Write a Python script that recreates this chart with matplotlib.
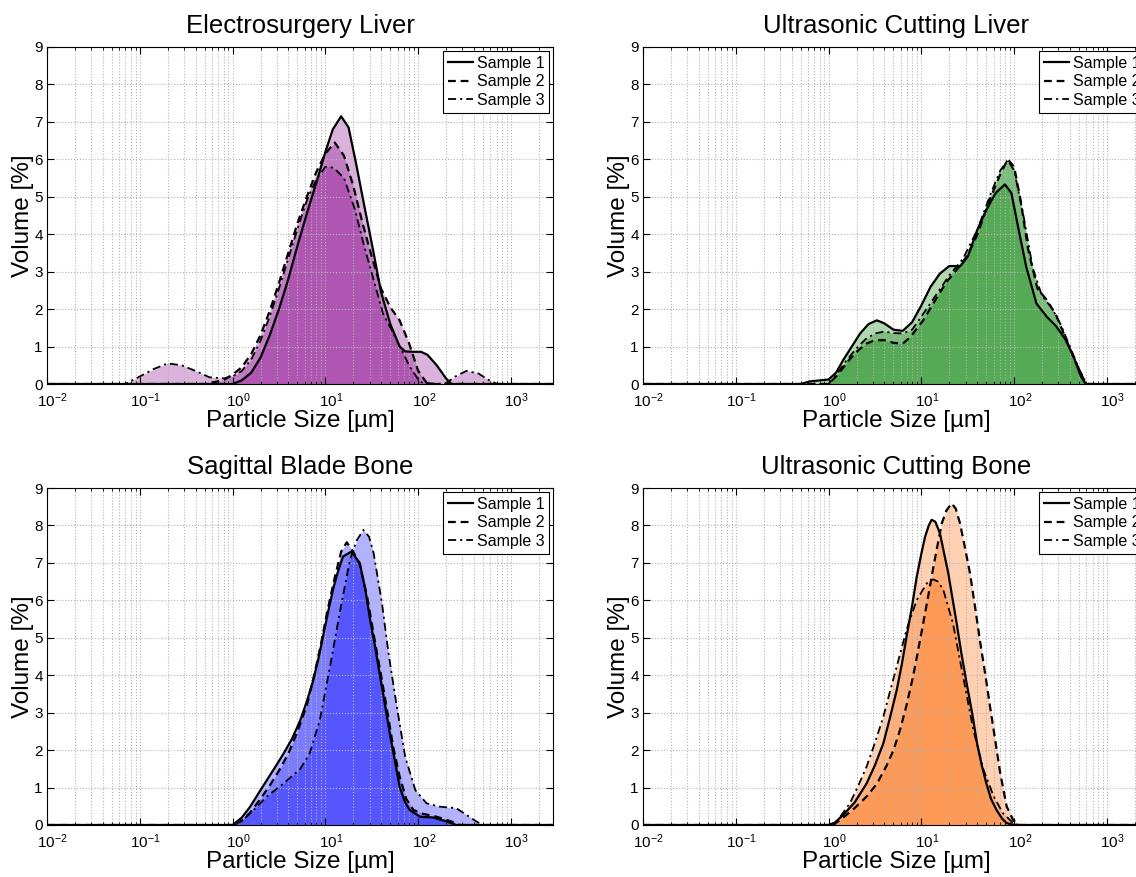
import numpy as np
import matplotlib
matplotlib.use("Agg")
import matplotlib.pyplot as plt
import matplotlib.transforms as mtransforms
from matplotlib.ticker import LogLocator, NullFormatter, MultipleLocator

plt.rcParams['font.family'] = ['Liberation Sans', 'DejaVu Sans']
plt.rcParams['mathtext.fontset'] = 'custom'
plt.rcParams['mathtext.rm'] = 'Liberation Sans'

# particle sizes are given as log10(size in um), volumes in %
titles = ["Electrosurgery Liver", "Ultrasonic Cutting Liver",
          "Sagittal Blade Bone", "Ultrasonic Cutting Bone"]
labels = ["Sample 1", "Sample 2", "Sample 3"]
colors = [(0.52, 0.0, 0.55), (0.0, 0.5, 0.0), (0.0, 0.0, 1.0), (1.0, 0.4, 0.0)]

# Electrosurgery Liver
esl_s1_x = [-2, 0.0, 0.1, 0.2, 0.3, 0.4, 0.5, 0.6, 0.7, 0.8, 0.9, 1.0, 1.08, 1.17, 1.25, 1.33,
            1.42, 1.52, 1.6, 1.7, 1.8, 1.86, 1.95, 2.03, 2.1, 2.2, 2.3, 2.36, 3.46]
esl_s1_y = [0, 0, 0.1, 0.3, 0.7, 1.3, 2.0, 2.8, 3.7, 4.55, 5.35, 6.2, 6.8, 7.15, 6.85, 5.9,
            4.75, 3.5, 2.45, 1.6, 1.0, 0.87, 0.86, 0.86, 0.78, 0.5, 0.15, 0, 0]
esl_s2_x = [-2, -0.3, -0.1, 0.0, 0.1, 0.2, 0.3, 0.4, 0.5, 0.6, 0.7, 0.8, 0.9, 1.0, 1.1, 1.2,
            1.3, 1.4, 1.5, 1.6, 1.7, 1.8, 1.9, 2.0, 2.1, 3.46]
esl_s2_y = [0, 0, 0.1, 0.25, 0.45, 0.8, 1.3, 1.95, 2.7, 3.5, 4.3, 5.0, 5.65, 6.15, 6.45, 6.1,
            5.3, 4.3, 3.4, 2.55, 2.05, 1.7, 1.1, 0.35, 0, 0]
esl_s3_x = [-2, -1.16, -1.0, -0.85, -0.7, -0.55, -0.4, -0.25, -0.1, 0.0, 0.1, 0.2, 0.3, 0.4,
            0.5, 0.6, 0.7, 0.8, 0.9, 1.0, 1.05, 1.1, 1.2, 1.32, 1.41, 1.52, 1.62, 1.77, 1.91,
            2.02, 2.2, 2.3, 2.4, 2.52, 2.65, 2.75, 2.85, 3.46]
esl_s3_y = [0, 0, 0.2, 0.4, 0.55, 0.5, 0.35, 0.18, 0.15, 0.2, 0.35, 0.65, 1.15, 1.8,
            2.55, 3.35, 4.15, 4.9, 5.45, 5.8, 5.8, 5.75, 5.5, 4.65, 3.76, 2.78, 1.89, 1.17, 0.46,
            0.05, 0, 0.02, 0.2, 0.35, 0.28, 0.12, 0, 0]

# Ultrasonic Cutting Liver
ucl_s1_x = [-2, -0.3, -0.2, 0.0, 0.08, 0.16, 0.25, 0.34, 0.43, 0.52, 0.6, 0.7, 0.8, 0.9, 1.0,
            1.1, 1.2, 1.3, 1.42, 1.5, 1.6, 1.7, 1.8, 1.9, 1.97, 2.05, 2.13, 2.24, 2.35, 2.45,
            2.55, 2.64, 2.72, 2.77, 3.46]
ucl_s1_y = [0, 0, 0.07, 0.12, 0.3, 0.65, 1.0, 1.35, 1.6, 1.7, 1.62, 1.45, 1.42, 1.65, 2.1,
            2.6, 2.95, 3.15, 3.15, 3.4, 4.1, 4.65, 5.1, 5.33, 5.1, 4.1, 3.13, 2.15, 1.8, 1.55,
            1.2, 0.73, 0.2, 0, 0]
ucl_s2_x = [-2, 0.0, 0.1, 0.22, 0.32, 0.41, 0.5, 0.6, 0.7, 0.8, 0.88, 1.02, 1.13, 1.27, 1.42,
            1.5, 1.6, 1.74, 1.85, 1.93, 2.0, 2.07, 2.15, 2.25, 2.35, 2.45, 2.55, 2.65, 2.75,
            2.8, 3.46]
ucl_s2_y = [0, 0, 0.25, 0.64, 0.9, 1.08, 1.17, 1.17, 1.1, 1.08, 1.25, 1.7, 2.16, 2.72, 3.17,
            3.45, 3.97, 4.95, 5.6, 6.0, 5.8, 4.9, 3.6, 2.55, 2.25, 1.85, 1.25, 0.65, 0.12,
            0, 0]
ucl_s3_x = [-2, 0.0, 0.1, 0.2, 0.3, 0.4, 0.5, 0.6, 0.7, 0.8, 0.9, 1.0, 1.15, 1.3, 1.45, 1.6,
            1.75, 1.85, 1.93, 2.0, 2.1, 2.2, 2.3, 2.4, 2.5, 2.6, 2.7, 2.78, 3.46]
ucl_s3_y = [0, 0, 0.3, 0.65, 0.95, 1.2, 1.35, 1.4, 1.36, 1.35, 1.45, 1.8, 2.35, 2.9, 3.35,
            4.1, 5.1, 5.7, 5.98, 5.7, 4.5, 3.1, 2.35, 2.05, 1.6, 1.0, 0.4, 0, 0]

# Sagittal Blade Bone
sbb_s1_x = [-2, 0.0, 0.1, 0.19, 0.28, 0.37, 0.46, 0.55, 0.64, 0.73, 0.8, 0.87, 0.93, 0.98,
            1.03, 1.09, 1.14, 1.19, 1.28, 1.37, 1.43, 1.48, 1.54, 1.59, 1.65, 1.7, 1.75, 1.8,
            1.86, 1.91, 2.02, 2.16, 2.3, 2.41, 3.46]
sbb_s1_y = [0, 0, 0.2, 0.49, 0.85, 1.2, 1.55, 1.91, 2.3, 2.8, 3.3, 3.87, 4.5, 5.1, 5.7,
            6.37, 6.8, 7.17, 7.3, 7.0, 6.3, 5.5, 4.7, 3.96, 3.1, 2.36, 1.7, 1.02, 0.6, 0.4,
            0.22, 0.2, 0.1, 0, 0]
sbb_s2_x = [-2, 0.02, 0.1, 0.19, 0.3, 0.4, 0.5, 0.6, 0.7, 0.8, 0.87, 0.95, 1.02, 1.1, 1.17,
            1.23, 1.3, 1.37, 1.45, 1.52, 1.6, 1.67, 1.73, 1.8, 1.87, 1.95, 2.05, 2.2, 2.35,
            2.45, 3.46]
sbb_s2_y = [0, 0, 0.12, 0.33, 0.7, 1.05, 1.45, 1.9, 2.5, 3.2, 3.9, 4.8, 5.7, 6.6, 7.3,
            7.55, 7.3, 6.95, 6.1, 5.1, 4.0, 3.0, 2.1, 1.3, 0.7, 0.4, 0.3, 0.22, 0.1, 0, 0]
sbb_s3_x = [-2, 0.05, 0.19, 0.37, 0.55, 0.73, 0.83, 0.94, 1.05, 1.16, 1.265, 1.34, 1.41,
            1.47, 1.52, 1.61, 1.68, 1.77, 1.86, 1.97, 2.09, 2.23, 2.41, 2.52, 2.63, 2.7, 3.46]
sbb_s3_y = [0, 0, 0.31, 0.76, 1.11, 1.5, 1.91, 2.8, 4.23, 5.74, 7.08, 7.61, 7.88, 7.7,
            7.26, 5.92, 4.59, 3.16, 1.82, 0.93, 0.58, 0.49, 0.45, 0.27, 0.09, 0, 0]

# Ultrasonic Cutting Bone
ucb_s1_x = [-2, 0.0, 0.06, 0.158, 0.28, 0.41, 0.5, 0.59, 0.66, 0.734, 0.79, 0.84, 0.9, 0.95,
            1.0, 1.04, 1.08, 1.11, 1.15, 1.2, 1.29, 1.38, 1.43, 1.488, 1.55, 1.6, 1.65, 1.7,
            1.75, 1.81, 1.87, 1.92, 2.0, 3.46]
ucb_s1_y = [0, 0, 0.05, 0.27, 0.6, 1.11, 1.6, 2.18, 2.85, 3.6, 4.3, 5.03, 5.85, 6.63, 7.25,
            7.7, 8.0, 8.15, 8.1, 7.79, 6.72, 5.39, 4.6, 3.78, 2.95, 2.18, 1.6, 1.11, 0.7, 0.4,
            0.17, 0.05, 0, 0]
ucb_s2_x = [-2, 0.05, 0.158, 0.28, 0.41, 0.52, 0.62, 0.7, 0.77, 0.84, 0.91, 0.96, 1.02, 1.08,
            1.13, 1.18, 1.22, 1.27, 1.326, 1.37, 1.416, 1.47, 1.524, 1.58, 1.63, 1.69, 1.74,
            1.8, 1.85, 1.92, 1.99, 2.06, 3.46]
ucb_s2_y = [0, 0, 0.2, 0.45, 0.76, 1.1, 1.56, 2.0, 2.54, 3.2, 3.96, 4.6, 5.39, 6.2, 6.9,
            7.55, 8.06, 8.4, 8.59, 8.45, 8.06, 7.4, 6.72, 5.8, 4.94, 4.0, 3.16, 2.2, 1.38,
            0.49, 0.13, 0, 0]
ucb_s3_x = [-2, 0.0, 0.087, 0.23, 0.32, 0.41, 0.5, 0.59, 0.66, 0.734, 0.84, 0.95, 1.06,
            1.128, 1.18, 1.236, 1.34, 1.45, 1.56, 1.67, 1.78, 1.88, 1.99, 2.05, 3.46]
ucb_s3_y = [0, 0, 0.09, 0.58, 1.05, 1.56, 2.2, 2.89, 3.55, 4.23, 5.21, 6.01, 6.46, 6.56,
            6.5, 6.28, 5.39, 3.96, 2.54, 1.47, 0.76, 0.31, 0.05, 0, 0]

panels = [
    [(esl_s1_x, esl_s1_y), (esl_s2_x, esl_s2_y), (esl_s3_x, esl_s3_y)],
    [(ucl_s1_x, ucl_s1_y), (ucl_s2_x, ucl_s2_y), (ucl_s3_x, ucl_s3_y)],
    [(sbb_s1_x, sbb_s1_y), (sbb_s2_x, sbb_s2_y), (sbb_s3_x, sbb_s3_y)],
    [(ucb_s1_x, ucb_s1_y), (ucb_s2_x, ucb_s2_y), (ucb_s3_x, ucb_s3_y)],
]
styles = [dict(ls='-', lw=1.6), dict(ls='--', lw=1.6, dashes=(3.5, 2.2)),
          dict(ls='-.', lw=1.3, dashes=(4.5, 2.2, 1.2, 2.2))]

W, H = 1136, 877
fig = plt.figure(figsize=(W / 100, H / 100), dpi=100)
# axes boxes in pixels: left, top; right column runs past the figure edge like the original
boxes = [(47, 47), (643, 47), (47, 488), (643, 488)]
aw, ah = 506, 337
# matlab centres the "10" of a log label on the tick, not the whole label
shift = mtransforms.ScaledTranslation(4 / 72, 0, fig.dpi_scale_trans)

for i, (left, top) in enumerate(boxes):
    ax = fig.add_axes([left / W, (H - top - ah) / H, aw / W, ah / H])
    for j, (lx, vy) in enumerate(panels[i]):
        xs = 10 ** np.array(lx)
        ys = np.array(vy)
        ax.fill_between(xs, ys, 0, color=colors[i], alpha=0.3, lw=0)
        ax.plot(xs, ys, color='k', label=labels[j], **styles[j])
    ax.set_xscale('log')
    ax.set_xlim(1e-2, 10 ** 3.453)
    ax.set_ylim(0, 9)
    ax.yaxis.set_major_locator(MultipleLocator(1))
    ax.xaxis.set_major_locator(LogLocator(base=10, numticks=10))
    ax.xaxis.set_minor_locator(LogLocator(base=10, subs=np.arange(2, 10), numticks=20))
    ax.xaxis.set_minor_formatter(NullFormatter())
    ax.grid(True, which='major', ls=':', color='#b4b4b4', lw=0.8)
    ax.grid(True, which='minor', axis='x', ls=':', color='#b4b4b4', lw=0.8)
    ax.tick_params(which='both', direction='in', top=True, right=True, labelsize=11)
    ax.tick_params(axis='x', pad=5.5)
    ax.tick_params(axis='y', pad=3)
    ax.tick_params(which='major', length=5)
    ax.tick_params(which='minor', length=2.5)
    for sp in ax.spines.values():
        sp.set_linewidth(0.8)
    ax.set_title(titles[i], fontsize=18.5, pad=10)
    ax.set_xlabel("Particle Size [µm]", fontsize=17.5, labelpad=0)
    ax.set_ylabel("Volume [%]", fontsize=17.5, labelpad=0)
    leg = ax.legend(loc='upper right', fontsize=11.5, handlelength=1.6, handletextpad=0.2,
                    labelspacing=0.22, borderpad=0.3, borderaxespad=0.25, fancybox=False,
                    framealpha=1, edgecolor='k')
    leg.get_frame().set_linewidth(0.8)
    ax.get_xticklabels()
    for t in ax.xaxis.get_major_ticks():
        t.label1.set_transform(t.label1.get_transform() + shift)

fig.savefig("out.png", dpi=100)
